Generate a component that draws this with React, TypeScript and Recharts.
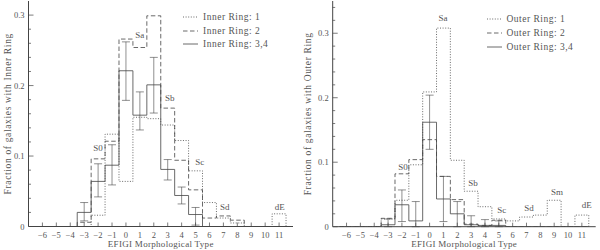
import { ComposedChart, Line, Scatter, ErrorBar, XAxis, YAxis, ReferenceDot, Legend } from 'recharts'

const FONT = '"Liberation Serif", serif'
const INK = '#444'
const TEXT = '#555'

// EFIGI morphological types (x categories)
const types = [-6, -5, -4, -3, -2, -1, 0, 1, 2, 3, 4, 5, 6, 7, 8, 9, 10, 11]
const xTicks = types

// left panel: inner rings
const inner1 = [0, 0, 0, 0, 0.016, 0.131, 0.064, 0.155, 0.153, 0.144, 0.122, 0.079, 0.034, 0.012, 0.005, 0, 0, 0.018]
const inner2 = [0, 0, 0, 0.006, 0.096, 0.121, 0.266, 0.254, 0.299, 0.168, 0.094, 0.052, 0.012, 0.015, 0.009, 0, 0, 0]
const inner34 = [0, 0, 0, 0.02, 0.064, 0.087, 0.221, 0.158, 0.201, 0.081, 0.044, 0.017, 0, 0, 0, 0, 0, 0]
const inner34Lo = [null, null, null, 0.008, 0.042, 0.059, 0.179, 0.137, 0.161, 0.066, 0.032, 0.002, null, null, null, null, null, null]
const inner34Hi = [null, null, null, 0.034, 0.089, 0.116, 0.262, 0.191, 0.24, 0.095, 0.056, 0.027, null, null, null, null, null, null]
const innerLabels = ['S0', 'Sa', 'Sb', 'Sc', 'Sd', 'dE']
const innerLabelX = [-2, 1, 3.15, 5.3, 7.1, 11.05]
const innerLabelY = [0.111, 0.272, 0.182, 0.092, 0.028, 0.028]
const innerYTicks = [0, 0.02, 0.04, 0.06, 0.08, 0.1, 0.12, 0.14, 0.16, 0.18, 0.2, 0.22, 0.24, 0.26, 0.28, 0.3]

// right panel: outer rings
const outer1 = [0, 0, 0, 0.012, 0.041, 0.096, 0.209, 0.308, 0.103, 0.055, 0.031, 0.012, 0.009, 0.015, 0.018, 0.041, 0, 0.018]
const outer2 = [0, 0, 0, 0.013, 0.082, 0.104, 0.135, 0.078, 0.042, 0.004, 0.002, 0.01, 0, 0, 0, 0, 0, 0]
const outer34 = [0, 0, 0, 0.003, 0.034, 0.009, 0.162, 0.043, 0.02, 0.003, 0.002, 0.002, 0, 0, 0, 0, 0, 0]
const outer34Lo = [null, null, null, 0, 0.008, 0, 0.12, 0.008, 0, 0, 0, 0, null, null, null, null, null, null]
const outer34Hi = [null, null, null, 0.012, 0.057, 0.039, 0.204, 0.078, 0.039, 0.017, 0.011, 0.009, null, null, null, null, null, null]
const outerLabels = ['S0', 'Sa', 'Sb', 'Sc', 'Sd', 'Sm', 'dE']
const outerLabelX = [-1.92, 0.97, 3.14, 5.21, 7.18, 9.2, 11.35]
const outerLabelY = [0.093, 0.324, 0.068, 0.026, 0.029, 0.054, 0.034]
const outerYTicks = [0, 0.02, 0.04, 0.06, 0.08, 0.1, 0.12, 0.14, 0.16, 0.18, 0.2, 0.22, 0.24, 0.26, 0.28, 0.3, 0.32, 0.34]

const styles = [
  { dash: '1 1.6' },
  { dash: '4.5 2.5' },
  { dash: undefined },
]

// histogram outline: bin edges at type-0.5, closed at the last edge
function steps(vals: number[]) {
  const rows = types.map((t, i) => ({ x: t - 0.5, v: vals[i] }))
  rows.push({ x: types[types.length - 1] + 0.5, v: 0 })
  return rows
}

function errRows(vals: number[], lo: (number | null)[], hi: (number | null)[]) {
  return types
    .map((t, i) => ({ x: t, v: vals[i], lo: lo[i], hi: hi[i] }))
    .filter((r) => r.lo !== null && r.hi !== null)
    .map((r) => ({ x: r.x, v: r.v, err: [r.v - (r.lo as number), (r.hi as number) - r.v] }))
}

const fmtType = (v: number) => (v < 0 ? '\u2212' + Math.abs(v) : String(v))
const isMajor = (v: number) => Math.abs(v * 10 - Math.round(v * 10)) < 1e-6

function BottomTick(p: any) {
  return (
    <g>
      <line x1={p.x} x2={p.x} y1={p.y} y2={p.y - 4} stroke={INK} strokeWidth={0.7} />
      <text x={p.x} y={p.y + 11} textAnchor='middle' fontSize={8.5} fontFamily={FONT} fill={TEXT}>
        {fmtType(p.payload.value)}
      </text>
    </g>
  )
}

function TopTick(p: any) {
  return <line x1={p.x} x2={p.x} y1={p.y} y2={p.y + 4} stroke={INK} strokeWidth={0.7} />
}

function LeftTick(p: any) {
  const v = p.payload.value
  const major = isMajor(v)
  return (
    <g>
      <line x1={p.x} x2={p.x + (major ? 5 : 2.5)} y1={p.y} y2={p.y} stroke={INK} strokeWidth={0.7} />
      {major && (
        <text x={p.x - 4} y={p.y + 3} textAnchor='end' fontSize={8.5} fontFamily={FONT} fill={TEXT}>
          {v === 0 ? '0' : v.toFixed(1)}
        </text>
      )}
    </g>
  )
}

function RightTick(p: any) {
  const major = isMajor(p.payload.value)
  return <line x1={p.x} x2={p.x - (major ? 5 : 2.5)} y1={p.y} y2={p.y} stroke={INK} strokeWidth={0.7} />
}

function LegendBox({ names }: { names: string[] }) {
  return (
    <div style={{ fontFamily: FONT, fontSize: 9.5, color: TEXT, letterSpacing: 0.5 }}>
      {names.map((n, i) => (
        <div key={n} style={{ display: 'flex', alignItems: 'center', height: 13.8 }}>
          <svg width={20} height={6} style={{ marginRight: 0 }}>
            <line x1={0} x2={15} y1={3} y2={3} stroke={INK} strokeWidth={0.8} strokeDasharray={styles[i].dash} />
          </svg>
          <span>{n}</span>
        </div>
      ))}
    </div>
  )
}

type PanelProps = {
  series: number[][]
  lo: (number | null)[]
  hi: (number | null)[]
  names: string[]
  labels: string[]
  labelX: number[]
  labelY: number[]
  yTicks: number[]
  yMax: number
  yTitle: string
  left: number
  yWidth: number
  rightMargin: number
  xHeight: number
  legendLeft: number
  legendTop: number
}

function Panel(pp: PanelProps) {
  return (
    <div style={{ position: 'absolute', left: pp.left, top: 0 }}>
      <ComposedChart width={300} height={250} margin={{ top: 1, right: pp.rightMargin, bottom: 0, left: 0 }}>
        <XAxis
          dataKey='x'
          type='number'
          domain={[-7, 12]}
          allowDataOverflow
          ticks={xTicks}
          interval={0}
          height={pp.xHeight}
          tickSize={0}
          tickMargin={0}
          tickLine={false}
          stroke={INK}
          tick={(p: any) => <BottomTick {...p} />}
          label={{
            content: (lp: any) => (
              <text
                x={lp.viewBox.x + lp.viewBox.width / 2}
                y={lp.viewBox.y + 20}
                textAnchor='middle'
                fontSize={9}
                letterSpacing={0.3}
                fontFamily={FONT}
                fill={TEXT}
              >
                EFIGI Morphological Type
              </text>
            ),
          }}
        />
        <XAxis
          xAxisId='top'
          orientation='top'
          dataKey='x'
          type='number'
          domain={[-7, 12]}
          allowDataOverflow
          ticks={xTicks}
          interval={0}
          height={0}
          tickSize={0}
          tickMargin={0}
          tickLine={false}
          stroke={INK}
          tick={(p: any) => <TopTick {...p} />}
        />
        <YAxis
          type='number'
          domain={[0, pp.yMax]}
          allowDataOverflow
          ticks={pp.yTicks}
          interval={0}
          width={pp.yWidth}
          tickSize={0}
          tickMargin={0}
          tickLine={false}
          stroke={INK}
          tick={(p: any) => <LeftTick {...p} />}
          label={{
            content: (lp: any) => {
              const cx = lp.viewBox.x + 8
              const cy = lp.viewBox.y + lp.viewBox.height / 2
              return (
                <text
                  x={cx}
                  y={cy}
                  transform={`rotate(-90 ${cx} ${cy})`}
                  textAnchor='middle'
                  dominantBaseline='central'
                  fontSize={9.5}
                  letterSpacing={0.65}
                  fontFamily={FONT}
                  fill={TEXT}
                >
                  {pp.yTitle}
                </text>
              )
            },
          }}
        />
        <YAxis
          yAxisId='right'
          orientation='right'
          type='number'
          domain={[0, pp.yMax]}
          allowDataOverflow
          ticks={pp.yTicks}
          interval={0}
          width={0}
          tickSize={0}
          tickMargin={0}
          tickLine={false}
          stroke={INK}
          tick={(p: any) => <RightTick {...p} />}
        />
        <Line
          xAxisId='top'
          yAxisId='right'
          data={steps(pp.series[0])}
          dataKey='v'
          stroke='none'
          dot={false}
          legendType='none'
          isAnimationActive={false}
        />
        {pp.series.map((s, i) => (
          <Line
            key={i}
            data={steps(s)}
            dataKey='v'
            name={pp.names[i]}
            type='stepAfter'
            stroke={INK}
            strokeWidth={0.8}
            strokeDasharray={styles[i].dash}
            dot={false}
            activeDot={false}
            isAnimationActive={false}
          />
        ))}
        <Scatter
          data={errRows(pp.series[2], pp.lo, pp.hi)}
          dataKey='v'
          shape={() => <g />}
          legendType='none'
          isAnimationActive={false}
        >
          <ErrorBar dataKey='err' direction='y' width={4} stroke={INK} strokeWidth={0.6} />
        </Scatter>
        {pp.labels.map((l, i) => (
          <ReferenceDot
            key={l}
            x={pp.labelX[i]}
            y={pp.labelY[i]}
            r={0}
            fill='none'
            stroke='none'
            label={{ value: l, position: 'center', fontSize: 9, fontFamily: FONT, fill: TEXT }}
          />
        ))}
        <Legend
          layout='horizontal'
          verticalAlign='middle'
          align='center'
          wrapperStyle={{ left: pp.legendLeft, top: pp.legendTop, width: 'auto', height: 'auto' }}
          content={() => <LegendBox names={pp.names} />}
        />
      </ComposedChart>
    </div>
  )
}

export default function App() {
  return (
    <div style={{ position: 'absolute', left: 0, top: 0, width: 600, height: 250, background: '#fff' }}>
      <Panel
        series={[inner1, inner2, inner34]}
        lo={inner34Lo}
        hi={inner34Hi}
        names={['Inner Ring: 1', 'Inner Ring: 2', 'Inner Ring: 3,4']}
        labels={innerLabels}
        labelX={innerLabelX}
        labelY={innerLabelY}
        yTicks={innerYTicks}
        yMax={0.32}
        yTitle='Fraction of galaxies with Inner Ring'
        left={0}
        yWidth={28.5}
        rightMargin={7}
        xHeight={23.5}
        legendLeft={183}
        legendTop={10}
      />
      <Panel
        series={[outer1, outer2, outer34]}
        lo={outer34Lo}
        hi={outer34Hi}
        names={['Outer Ring: 1', 'Outer Ring: 2', 'Outer Ring: 3,4']}
        labels={outerLabels}
        labelX={outerLabelX}
        labelY={outerLabelY}
        yTicks={outerYTicks}
        yMax={0.35}
        yTitle='Fraction of galaxies with Outer Ring'
        left={300}
        yWidth={32.7}
        rightMargin={4.3}
        xHeight={23.3}
        legendLeft={186.5}
        legendTop={12.4}
      />
    </div>
  )
}
